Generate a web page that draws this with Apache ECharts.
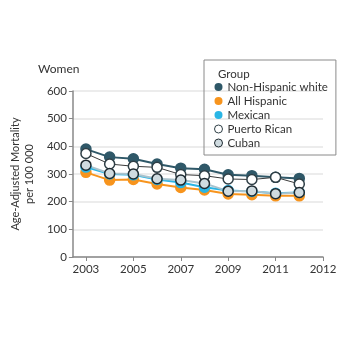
<!DOCTYPE html>
<html>
<head>
<meta charset="utf-8">
<script src="https://cdn.jsdelivr.net/npm/echarts@6/dist/echarts.min.js"></script>
<style>
  html, body { margin: 0; padding: 0; background: #fff; }
  #chart { width: 350px; height: 350px; }
</style>
</head>
<body>
<div id="chart"></div>
<script>
const years = [2003, 2004, 2005, 2006, 2007, 2008, 2009, 2010, 2011, 2012];
const nonHispanicWhite = [390, 361, 355, 336, 321, 317, 297, 294, 288, 284];
const allHispanic = [306, 278, 280, 264, 251, 242, 228, 225, 221, 221];
const mexican = [325, 300, 297, 280, 269, 252, 240, 237, 230, 233];
const puertoRican = [374, 336, 328, 324, 298, 294, 282, 280, 288, 264];
const cuban = [332, 302, 300, 283, 278, 266, 238, 239, 229, 233];

// the last tick sits one year past the data but is printed "2012" in the source
const xTickValues = [2003, 2005, 2007, 2009, 2011, 2013];
const xTickLabels = ['2003', '2005', '2007', '2009', '2011', '2012'];
const yTicks = [0, 100, 200, 300, 400, 500, 600];

const font = 'Lato, "Noto Sans", sans-serif';
const pairs = (vals) => years.map((y, i) => [y, vals[i]]);

const groups = [
  { name: 'Non-Hispanic white', data: nonHispanicWhite, line: '#2f5868', fill: '#2f5868', border: '#2f5868', width: 2 },
  { name: 'All Hispanic', data: allHispanic, line: '#f7941d', fill: '#f7941d', border: '#f7941d', width: 2 },
  { name: 'Mexican', data: mexican, line: '#29b5e5', fill: '#29b5e5', border: '#29b5e5', width: 2 },
  { name: 'Puerto Rican', data: puertoRican, line: '#3a3a3a', fill: '#ffffff', border: '#2f3f46', width: 1 },
  { name: 'Cuban', data: cuban, line: '#a9c3ce', fill: '#cfdbe0', border: '#1f2a30', width: 2 },
];

const chart = echarts.init(document.getElementById('chart'));
chart.setOption({
  animation: false,
  textStyle: { fontFamily: font },
  title: [
    { text: 'Women', left: 33, top: 58, textStyle: { fontFamily: font, fontSize: 12, fontWeight: 'normal', color: '#333' } },
    { text: 'Group', left: 213, top: 63, textStyle: { fontFamily: font, fontSize: 11.5, fontWeight: 'normal', color: '#333' } },
  ],
  legend: {
    orient: 'vertical',
    left: 204,
    top: 60,
    padding: [21, 8, 6, 10],
    borderColor: '#8a8a8a',
    borderWidth: 1,
    itemWidth: 8,
    itemHeight: 8,
    itemGap: 2,
    icon: 'circle',
    textStyle: { fontFamily: font, fontSize: 11.5, color: '#333' },
    data: groups.map((g) => ({
      name: g.name,
      itemStyle: { color: g.fill, borderColor: g.border, borderWidth: g.fill === g.border ? 0 : 1 },
    })),
  },
  grid: { left: 67, right: 27, top: 91, bottom: 93 },
  xAxis: {
    type: 'value',
    min: 2002.45,
    max: 2013,
    axisLine: { lineStyle: { color: '#888', width: 1.5 } },
    axisTick: { show: true, customValues: xTickValues, length: 4, lineStyle: { color: '#888' } },
    axisLabel: {
      customValues: xTickValues,
      color: '#333',
      fontSize: 11.5,
      margin: 6,
      formatter: (v) => xTickLabels[xTickValues.indexOf(v)],
    },
    splitLine: { show: false },
  },
  yAxis: {
    type: 'value',
    min: 0,
    max: 600,
    interval: 100,
    name: 'Age-Adjusted Mortality\nper 100 000',
    nameLocation: 'middle',
    nameGap: 24,
    nameTextStyle: { fontFamily: font, fontSize: 11, color: '#333', lineHeight: 14 },
    axisLine: { show: true, lineStyle: { color: '#888', width: 1.5 } },
    axisTick: { show: true, length: 4, lineStyle: { color: '#888' } },
    axisLabel: { color: '#333', fontSize: 11.5, margin: 6, formatter: (v) => (yTicks.includes(v) ? String(v) : '') },
    splitLine: { lineStyle: { color: '#e6e6e6', width: 1.5 } },
  },
  series: groups.map((g) => ({
    name: g.name,
    type: 'line',
    data: pairs(g.data),
    symbol: 'circle',
    symbolSize: 10,
    showAllSymbol: true,
    lineStyle: { color: g.line, width: g.width },
    itemStyle: { color: g.fill, borderColor: g.border, borderWidth: 1.5 },
    emphasis: { disabled: true },
  })),
});
</script>
</body>
</html>
